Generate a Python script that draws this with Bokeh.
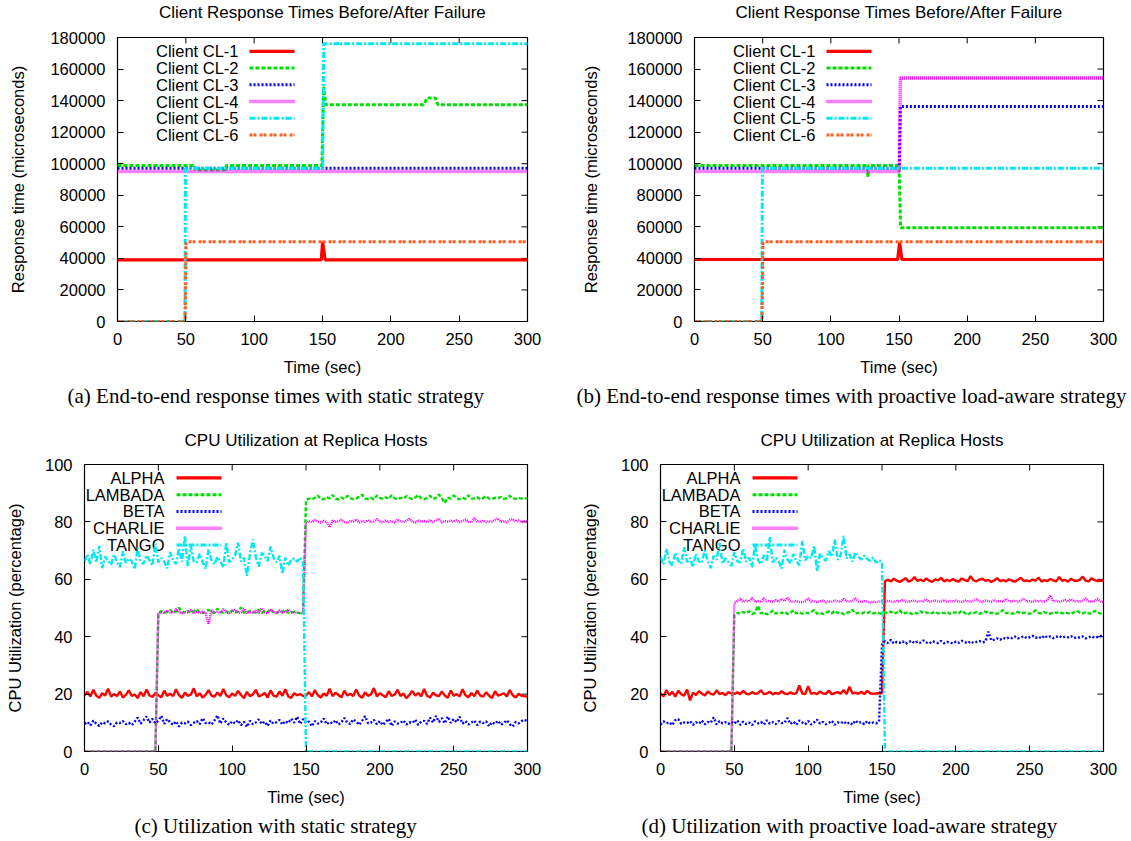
from bokeh.plotting import figure
from bokeh.models import Title, Range1d, FixedTicker, BasicTickFormatter
from bokeh.layouts import column, row
from bokeh.embed import file_html
from bokeh.resources import INLINE
from bokeh.core.properties import value

# ---------------- data ----------------
TIME_TICKS = [0, 50, 100, 150, 200, 250, 300]
RESP_TICKS = [0, 20000, 40000, 60000, 80000, 100000, 120000, 140000, 160000, 180000]
CPU_TICKS = [0, 20, 40, 60, 80, 100]

CLIENTS = ["Client CL-1", "Client CL-2", "Client CL-3", "Client CL-4", "Client CL-5", "Client CL-6"]
HOSTS = ["ALPHA", "LAMBADA", "BETA", "CHARLIE", "TANGO"]
RESP_TITLE = "Client Response Times Before/After Failure"
CPU_TITLE = "CPU Utilization at Replica Hosts"

# (a) static strategy: response times (microseconds)
A_CL1_T = [0, 149.1, 150.1, 151.9, 300]
A_CL1_V = [39100, 39100, 50500, 39100, 39100]
A_CL2_T = [0, 56.3, 57.0, 79.0, 79.7, 149.5, 150.8, 152.5, 224.0, 226.6, 232.6, 234.5, 300]
A_CL2_V = [98900, 98900, 96000, 96000, 98900, 98900, 148600, 137350, 137350, 141700, 141700, 137350, 137350]
A_CL3_T = [0, 300]
A_CL3_V = [97200, 97200]
A_CL4_T = [0, 300]
A_CL4_V = [95100, 95100]
A_CL5_T = [0, 49.3, 49.8, 150.1, 150.9, 161.0, 162.0, 163.0, 300]
A_CL5_V = [0, 0, 97200, 97200, 176000, 176000, 177000, 176000, 176000]
A_CL6_T = [0, 49.5, 50.2, 300]
A_CL6_V = [0, 0, 50600, 50600]

# (b) proactive load-aware strategy: response times (microseconds)
B_CL1_T = [0, 149.0, 150.5, 152.1, 300]
B_CL1_V = [39300, 39300, 50000, 39300, 39300]
B_CL2_T = [0, 126.6, 127.2, 127.8, 150.0, 151.2, 300]
B_CL2_V = [98900, 98900, 91600, 98900, 98900, 59400, 59400]
B_CL3_T = [0, 150.2, 151.0, 300]
B_CL3_V = [97200, 97200, 136300, 136300]
B_CL4_T = [0, 150.3, 151.0, 300]
B_CL4_V = [95100, 95100, 154300, 154300]
B_CL5_T = [0, 49.3, 49.8, 300]
B_CL5_V = [0, 0, 97200, 97200]
B_CL6_T = [0, 49.5, 50.2, 300]
B_CL6_V = [0, 0, 50600, 50600]

# CPU utilization samples every 2 seconds, t = 0 .. 300
CPU_T = list(range(0, 301, 2))

ALPHA_C = [
    19.6, 20.8, 19.2, 21.5, 19.4, 18.7, 20.3, 19.5, 21.9, 19.1, 20.0, 19.3, 20.9, 18.8, 19.7, 21.3, 19.4, 19.9, 18.6, 20.7, 19.2, 21.6, 19.5, 19.0, 20.4,
    19.6, 18.9, 21.2, 19.4, 20.1, 19.3, 21.7, 19.6, 18.7, 20.5, 19.4, 19.8, 22.0, 19.2, 20.3, 18.8, 19.7, 21.4, 19.5, 19.1, 20.6, 19.3, 21.8, 19.6, 18.9,
    20.2, 19.4, 21.1, 19.7, 18.6, 20.8, 19.3, 19.9, 21.5, 19.2, 19.6, 20.4, 18.8, 21.3, 19.5, 19.1, 20.9, 19.4, 21.7, 19.2, 18.7, 20.3, 19.6, 20.0, 19.3,
    19.5, 20.7, 19.2, 21.4, 19.6, 18.8, 20.2, 19.4, 21.9, 19.3, 20.5, 19.7, 18.9, 21.2, 19.5, 20.1, 19.3, 21.6, 19.5, 18.7, 20.6, 19.4, 19.9, 22.1, 19.2,
    20.3, 19.6, 18.9, 21.0, 19.4, 19.8, 21.5, 19.3, 20.2, 18.6, 19.7, 21.1, 19.5, 20.4, 19.2, 21.8, 19.4, 18.8, 20.5, 19.6, 19.3, 20.9, 19.5, 18.7, 21.3,
    19.4, 20.0, 19.2, 21.7, 19.6, 18.9, 20.4, 19.3, 21.2, 19.5, 19.1, 20.6, 19.4, 18.6, 21.0, 19.5, 19.8, 20.3, 19.2, 21.4, 19.6, 18.8, 20.1, 19.4, 19.3,
    19.0]
LAMBADA_C = [
    0, 0, 0, 0, 0, 0, 0, 0, 0, 0, 0, 0, 0, 0, 0, 0, 0, 0, 0, 0, 0, 0, 0, 0, 0,
    48.2, 48.9, 48.4, 48.6, 49.3, 48.3, 48.7, 50.1, 48.4, 48.5, 49.0, 48.3, 48.8, 49.6, 48.4, 48.2, 48.7, 49.4, 48.5, 48.3, 49.8, 48.6, 48.4, 48.9, 48.2,
    49.2, 48.5, 48.7, 50.2, 48.4, 48.3, 49.1, 48.6, 48.4, 49.5, 48.3, 48.8, 48.5, 49.7, 48.4, 48.2, 48.9, 48.6, 49.3, 48.3, 48.5, 48.7, 48.4, 48.2, 48.3,
    87.6, 88.1, 87.8, 88.4, 89.2, 88.0, 87.9, 88.6, 88.2, 89.4, 88.1, 87.8, 88.5, 88.0, 89.1, 88.3, 87.9, 88.2, 88.7, 89.5, 88.1, 88.0, 88.4, 87.8, 89.2,
    88.3, 88.1, 88.6, 88.0, 89.3, 88.2, 87.9, 88.4, 88.1, 89.0, 88.3, 88.0, 88.5, 89.4, 88.2, 87.9, 88.3, 89.1, 88.0, 88.4, 89.6, 88.2, 86.6, 88.5, 88.1,
    89.2, 88.3, 87.9, 88.4, 88.0, 89.3, 88.1, 88.2, 88.6, 87.9, 88.3, 89.0, 88.1, 88.0, 88.4, 88.2, 88.7, 88.0, 88.3, 89.1, 88.2, 88.0, 88.4, 88.1, 88.3,
    88.0]
BETA_C = [
    9.6, 10.3, 9.1, 10.8, 9.7, 8.9, 10.2, 9.8, 10.5, 9.4, 8.8, 10.1, 9.9, 10.6, 9.5, 10.0, 9.2, 10.4, 11.8, 9.7, 10.9, 12.2, 10.1, 11.4, 9.8,
    10.7, 12.4, 9.6, 11.3, 10.2, 9.3, 10.5, 8.7, 10.1, 9.8, 10.4, 9.2, 10.0, 10.6, 9.5, 11.6, 9.9, 10.2, 9.4, 10.8, 12.6, 9.7, 11.5, 10.1, 9.3,
    10.5, 9.8, 10.9, 9.2, 10.3, 8.6, 10.7, 9.5, 10.1, 11.2, 9.6, 10.4, 8.9, 10.8, 9.7, 10.2, 11.0, 9.4, 10.6, 9.9, 11.4, 10.0, 12.1, 9.6, 11.3,
    9.9, 10.4, 8.8, 10.6, 9.7, 10.1, 11.5, 9.5, 10.3, 9.8, 10.9, 9.4, 10.2, 11.7, 10.0, 9.6, 11.2, 10.4, 9.3, 10.7, 12.3, 9.8, 10.1, 11.0, 9.5,
    10.6, 9.2, 10.3, 11.4, 8.9, 10.5, 9.7, 10.0, 10.8, 9.4, 10.2, 9.9, 11.1, 9.3, 10.4, 10.7, 9.6, 11.8, 10.1, 12.4, 10.3, 11.6, 9.8, 12.2, 10.0,
    11.3, 10.2, 12.1, 9.7, 10.6, 9.4, 10.1, 10.8, 9.2, 10.4, 9.9, 10.5, 8.8, 10.2, 9.6, 10.7, 9.3, 10.0, 10.9, 9.5, 8.7, 10.3, 9.8, 10.6, 11.1,
    10.4]
CHARLIE_C = [
    0, 0, 0, 0, 0, 0, 0, 0, 0, 0, 0, 0, 0, 0, 0, 0, 0, 0, 0, 0, 0, 0, 0, 0, 0,
    48.0, 48.6, 48.2, 49.1, 48.4, 48.3, 49.7, 48.5, 48.2, 48.8, 48.4, 49.3, 48.1, 48.6, 48.3, 48.7, 48.2, 44.3, 49.2, 48.4, 48.6, 48.3, 49.6, 48.5, 48.2,
    48.7, 49.4, 48.3, 48.5, 49.8, 48.2, 48.6, 48.4, 49.1, 48.3, 49.9, 48.5, 48.2, 49.4, 48.6, 48.3, 49.2, 48.4, 48.7, 49.5, 48.3, 48.5, 48.4, 48.2, 48.1,
    79.6, 80.3, 79.9, 80.6, 80.1, 79.8, 80.4, 80.0, 78.2, 80.5, 79.9, 80.2, 80.8, 80.0, 79.7, 80.4, 80.1, 80.9, 79.8, 80.3, 80.0, 80.6, 79.9, 80.2, 81.0,
    80.1, 79.8, 80.5, 80.0, 80.3, 79.7, 80.9, 80.2, 79.9, 80.4, 81.1, 80.0, 79.8, 80.6, 80.1, 80.3, 79.9, 80.7, 80.0, 80.4, 81.2, 79.8, 80.3, 80.1, 80.5,
    80.0, 80.6, 79.9, 80.3, 80.8, 80.1, 79.8, 81.3, 80.2, 80.0, 80.5, 79.9, 80.3, 80.1, 80.7, 81.2, 80.0, 80.4, 79.8, 80.6, 81.0, 80.2, 80.5, 79.9, 80.3,
    80.1]
TANGO_C = [
    66.2, 68.7, 65.1, 70.3, 65.8, 71.6, 63.9, 67.9, 66.4, 65.1, 68.7, 66.0, 64.2, 69.8, 65.7, 67.2, 66.3, 63.5, 70.9, 66.1, 65.4, 68.3, 66.6, 64.8, 72.4,
    65.9, 67.4, 66.2, 63.8, 69.5, 66.5, 65.3, 70.8, 66.1, 75.2, 64.6, 71.5, 66.3, 65.8, 68.9, 66.0, 63.6, 70.4, 66.7, 65.2, 67.8, 66.4, 64.1, 72.8, 65.9,
    67.1, 68.3, 72.8, 66.2, 67.5, 61.2, 68.6, 73.9, 67.8, 64.4, 69.2, 68.1, 66.3, 71.4, 67.6, 65.9, 68.2, 61.9, 67.5, 64.7, 66.9, 67.3, 66.1, 67.6, 65.7,
    0, 0, 0, 0, 0, 0, 0, 0, 0, 0, 0, 0, 0, 0, 0, 0, 0, 0, 0, 0, 0, 0, 0, 0, 0,
    0, 0, 0, 0, 0, 0, 0, 0, 0, 0, 0, 0, 0, 0, 0, 0, 0, 0, 0, 0, 0, 0, 0, 0, 0,
    0, 0, 0, 0, 0, 0, 0, 0, 0, 0, 0, 0, 0, 0, 0, 0, 0, 0, 0, 0, 0, 0, 0, 0, 0,
    0]

ALPHA_D = [
    20.3, 19.2, 21.4, 19.6, 20.8, 19.1, 21.2, 20.0, 19.4, 21.6, 17.8, 20.5, 19.7, 21.0, 20.2, 19.5, 20.9, 20.1, 19.8, 21.3, 20.0, 20.4, 19.6, 20.7, 20.2,
    20.1, 20.6, 20.0, 21.1, 20.2, 19.9, 20.7, 20.1, 20.3, 21.3, 20.0, 20.2, 20.8, 19.9, 20.4, 20.1, 21.0, 20.2, 20.0, 20.6, 20.1, 20.3, 23.0, 20.2, 20.0,
    22.8, 20.1, 20.4, 20.0, 20.9, 20.2, 20.1, 21.2, 20.0, 20.3, 20.7, 20.1, 21.4, 20.0, 22.6, 20.2, 20.5, 20.1, 20.8, 20.0, 21.1, 20.3, 20.1, 20.2, 20.4,
    20.3, 59.4, 59.8, 59.3, 60.2, 59.5, 59.1, 59.7, 60.4, 59.2, 59.6, 60.8, 59.4, 59.9, 59.3, 60.3, 59.5, 59.1, 60.0, 59.6, 60.5, 59.3, 59.8, 59.4, 60.1,
    59.5, 59.2, 60.3, 59.7, 59.4, 61.1, 59.6, 59.3, 59.9, 60.2, 59.5, 59.8, 59.1, 59.6, 60.4, 59.4, 59.7, 59.3, 60.0, 59.5, 59.2, 59.8, 60.5, 59.4, 59.6,
    59.3, 59.9, 59.5, 60.6, 59.2, 59.7, 59.4, 60.1, 59.6, 59.3, 60.8, 59.5, 59.8, 59.2, 60.2, 59.6, 59.4, 59.9, 60.9, 59.5, 59.3, 60.4, 59.7, 59.4, 59.6,
    59.4]
LAMBADA_D = [
    0, 0, 0, 0, 0, 0, 0, 0, 0, 0, 0, 0, 0, 0, 0, 0, 0, 0, 0, 0, 0, 0, 0, 0, 0,
    47.6, 48.3, 48.0, 48.6, 48.2, 48.9, 47.9, 48.4, 50.8, 48.1, 48.5, 47.8, 48.3, 49.1, 48.0, 48.4, 48.2, 48.7, 47.9, 48.3, 49.2, 48.1, 48.5, 48.0, 48.3,
    48.2, 48.6, 49.3, 48.0, 48.4, 47.9, 48.3, 48.8, 48.1, 49.0, 48.2, 48.5, 47.8, 48.3, 48.6, 49.4, 48.1, 48.3, 48.0, 48.5, 48.2, 48.7, 48.1, 48.4, 48.2,
    48.0, 48.5, 48.2, 48.8, 48.1, 48.4, 49.2, 48.0, 48.3, 48.6, 47.9, 48.4, 48.1, 48.9, 48.2, 48.5, 48.0, 48.3, 48.7, 48.1, 48.4, 48.2, 48.6, 48.0, 48.3,
    48.5, 48.1, 49.1, 48.3, 47.6, 48.4, 48.2, 48.6, 48.0, 48.3, 48.8, 48.1, 48.4, 48.2, 48.0, 48.5, 49.3, 48.2, 48.4, 48.0, 48.3, 48.6, 48.1, 48.4, 48.2,
    48.0, 48.4, 49.2, 48.3, 48.1, 48.6, 48.2, 48.0, 48.5, 48.3, 48.7, 48.1, 48.4, 48.2, 48.0, 48.5, 49.1, 48.3, 48.1, 48.6, 48.2, 48.0, 49.0, 48.4, 48.1,
    47.9]
BETA_D = [
    9.4, 10.5, 9.8, 10.2, 9.2, 10.9, 11.3, 9.6, 10.1, 9.9, 10.6, 9.3, 10.2, 9.7, 10.8, 9.5, 10.3, 10.0, 11.9, 9.4, 10.6, 9.8, 10.2, 9.6, 10.4,
    9.7, 10.8, 9.3, 10.4, 9.6, 10.1, 9.2, 10.5, 9.8, 10.3, 9.4, 10.9, 9.7, 10.2, 9.5, 10.6, 9.9, 10.0, 11.7, 9.6, 10.4, 9.3, 10.8, 10.1, 9.5,
    10.6, 9.4, 10.2, 11.1, 9.7, 10.3, 9.5, 10.0, 10.7, 9.3, 10.1, 9.8, 10.5, 9.6, 10.2, 9.4, 10.8, 9.9, 10.3, 9.5, 10.6, 9.7, 10.1, 9.8, 10.4,
    37.2, 38.5, 37.8, 38.9, 37.6, 38.2, 37.9, 38.4, 37.5, 38.1, 38.6, 37.7, 38.3, 37.9, 38.7, 38.0, 37.6, 38.4, 38.1, 37.8, 38.5, 37.7, 38.2, 38.0, 37.6,
    38.3, 37.9, 38.6, 38.1, 37.7, 38.4, 37.8, 38.2, 38.5, 38.0, 38.3, 41.8, 38.7, 39.0, 39.4, 38.9, 39.6, 39.2, 39.8, 39.5, 40.1, 39.4, 39.7, 40.2, 39.5,
    39.8, 40.3, 39.6, 40.0, 39.4, 40.4, 39.7, 40.1, 39.5, 39.9, 40.3, 39.6, 40.0, 39.8, 40.2, 39.5, 39.9, 39.7, 40.1, 39.4, 39.8, 40.2, 39.6, 39.9, 40.3,
    39.7]
CHARLIE_D = [
    0, 0, 0, 0, 0, 0, 0, 0, 0, 0, 0, 0, 0, 0, 0, 0, 0, 0, 0, 0, 0, 0, 0, 0, 0,
    51.8, 52.4, 53.3, 52.1, 52.6, 52.3, 53.5, 52.2, 52.4, 52.0, 53.4, 52.3, 52.5, 52.1, 52.8, 52.2, 53.2, 52.4, 53.6, 52.3, 52.1, 52.5, 52.2, 52.0, 52.4,
    53.3, 52.2, 52.5, 52.1, 52.3, 52.6, 52.0, 52.4, 52.2, 52.7, 52.3, 52.1, 53.2, 52.4, 52.2, 52.5, 53.4, 52.3, 52.1, 52.4, 52.2, 51.9, 52.3, 52.1, 52.2,
    52.4, 52.1, 52.6, 52.3, 52.0, 52.5, 52.2, 52.8, 52.3, 52.1, 52.4, 52.7, 52.2, 52.5, 52.3, 52.9, 52.1, 52.4, 52.6, 52.2, 52.3, 52.8, 52.1, 52.5, 52.2,
    52.6, 52.3, 52.1, 52.7, 52.4, 52.2, 52.5, 53.0, 52.3, 52.1, 52.6, 52.4, 52.2, 52.8, 52.3, 52.5, 52.1, 53.2, 52.4, 52.3, 52.6, 52.2, 52.5, 53.3, 52.2,
    52.4, 52.1, 52.6, 52.3, 52.5, 52.2, 52.7, 54.4, 52.3, 52.5, 52.1, 52.4, 52.8, 52.2, 53.1, 52.3, 52.5, 52.1, 52.6, 53.4, 52.3, 52.2, 52.5, 53.2, 52.3,
    52.1]
TANGO_D = [
    67.8, 65.2, 70.6, 66.1, 64.8, 69.3, 66.5, 65.4, 71.2, 66.0, 67.4, 64.3, 68.9, 66.2, 65.7, 70.1, 66.4, 63.9, 68.2, 66.8, 72.6, 65.5, 67.3, 66.0, 64.6,
    69.4, 66.3, 65.9, 70.8, 66.1, 67.6, 64.2, 71.9, 66.7, 65.3, 68.4, 66.2, 74.8, 65.8, 67.5, 66.4, 63.7, 70.2, 66.9, 65.6, 68.8, 66.3, 64.9, 73.4, 66.6,
    68.2, 67.4, 71.6, 62.8, 68.9, 67.2, 66.5, 69.8, 67.9, 73.9, 66.8, 68.4, 75.1, 67.3, 68.7, 66.2, 69.4, 67.8, 66.9, 68.3, 67.1, 66.4, 67.6, 65.8, 66.7,
    66.0, 0, 0, 0, 0, 0, 0, 0, 0, 0, 0, 0, 0, 0, 0, 0, 0, 0, 0, 0, 0, 0, 0, 0, 0,
    0, 0, 0, 0, 0, 0, 0, 0, 0, 0, 0, 0, 0, 0, 0, 0, 0, 0, 0, 0, 0, 0, 0, 0, 0,
    0, 0, 0, 0, 0, 0, 0, 0, 0, 0, 0, 0, 0, 0, 0, 0, 0, 0, 0, 0, 0, 0, 0, 0, 0,
    0]

for _s in (ALPHA_C, LAMBADA_C, BETA_C, CHARLIE_C, TANGO_C, ALPHA_D, LAMBADA_D, BETA_D, CHARLIE_D, TANGO_D):
    assert len(_s) == len(CPU_T), len(_s)

# ---------------- styles ----------------
SANS = "Liberation Sans"
SERIF = "Liberation Serif"
FS = "16.5px"
TITLE_FS = "17px"
CAP_FS = "21px"

STYLES = [
    dict(line_color="#ff0000", line_dash="solid", line_width=3.2),
    dict(line_color="#00e000", line_dash="4 2", line_width=3.0),
    dict(line_color="#0000ff", line_dash="2 2", line_width=3.0),
    dict(line_color="#ff00ff", line_dash="1 1", line_width=3.5),
    dict(line_color="#00eaf0", line_dash="6 2 2 2", line_width=3.0),
    dict(line_color="#ff5c1f", line_dash="3 1 3 3", line_width=3.0),
]


def make_panel(w, h, bl, br, bt, bb, fw, fh, ymax, yticks, title, ylabel,
               caption, cap_offset, ylab_standoff):
    p = figure(width=w, height=h, x_range=Range1d(0, 300), y_range=Range1d(0, ymax),
               output_backend="svg", toolbar_location=None,
               min_border_left=bl, min_border_right=br, min_border_top=bt, min_border_bottom=bb)
    p.xgrid.visible = False
    p.ygrid.visible = False
    p.outline_line_color = "black"
    p.outline_line_width = 1.2
    p.outline_line_alpha = 1.0
    p.background_fill_color = "white"
    p.border_fill_color = "white"
    if title:
        p.title.text = title
        p.title.align = "center"
        p.title.text_font = SANS
        p.title.text_font_size = TITLE_FS
        p.title.text_font_style = "normal"
        p.title.text_color = "black"
        p.title.standoff = 30

    xa = p.xaxis[0]
    ya = p.yaxis[0]
    xa.ticker = FixedTicker(ticks=TIME_TICKS)
    ya.ticker = FixedTicker(ticks=yticks)
    ya.formatter = BasicTickFormatter(use_scientific=False)
    xa.axis_label = "Time (sec)"
    ya.axis_label = ylabel
    for ax in (xa, ya):
        ax.axis_line_color = None
        ax.major_tick_in = 6
        ax.major_tick_out = 0
        ax.major_tick_line_color = "black"
        ax.minor_tick_line_color = None
        ax.major_label_text_font = SANS
        ax.major_label_text_font_size = FS
        ax.major_label_text_color = "black"
        ax.axis_label_text_font = SANS
        ax.axis_label_text_font_size = FS
        ax.axis_label_text_font_style = "normal"
        ax.axis_label_text_color = "black"
    xa.major_label_standoff = 11
    xa.axis_label_standoff = 10
    ya.major_label_standoff = 12
    ya.axis_label_standoff = ylab_standoff

    # mirrored inward ticks on the top and right borders (gnuplot style)
    ty = ymax * 6.0 / fh
    tx = 300 * 6.0 / fw
    p.segment(x0=TIME_TICKS, y0=[ymax] * len(TIME_TICKS), x1=TIME_TICKS,
              y1=[ymax - ty] * len(TIME_TICKS), line_color="black", line_width=1)
    p.segment(x0=[300] * len(yticks), y0=yticks, x1=[300 - tx] * len(yticks), y1=yticks,
              line_color="black", line_width=1)

    cap = Title(text=caption, align="left", offset=cap_offset, standoff=6,
                text_font=SERIF, text_font_size=CAP_FS, text_font_style="normal",
                text_color="black")
    p.add_layout(cap, "below")
    p._fw = fw
    p._fh = fh
    p._ymax = ymax
    return p


def add_key(p, labels, text_right, s0, s1, row0, dy):
    fw, fh, ymax = p._fw, p._fh, p._ymax
    for i, lab in enumerate(labels):
        yv = ymax * (1 - (row0 + dy * i) / fh)
        p.text(x=[text_right / fw * 300], y=[yv], text=[lab], text_align="right",
               text_baseline="middle", text_font=value(SANS), text_font_size=value(FS),
               text_color="black")
        p.line([s0 / fw * 300, s1 / fw * 300], [yv, yv], **STYLES[i])


# ---------------- title strip above the top row ----------------
STRIP_W, STRIP_H = 1130, 24
strip = figure(width=STRIP_W, height=STRIP_H, x_range=Range1d(0, STRIP_W), y_range=Range1d(0, STRIP_H),
               output_backend="svg", toolbar_location=None,
               min_border_left=0, min_border_right=0, min_border_top=0, min_border_bottom=0)
strip.axis.visible = False
strip.grid.visible = False
strip.outline_line_color = None
strip.background_fill_color = "white"
strip.border_fill_color = "white"
# centred over each top-row frame (frames span 117-527 and 694-1103)
strip.text(x=[322, 898.5], y=[STRIP_H - 12, STRIP_H - 12], text=[RESP_TITLE, RESP_TITLE],
           text_align="center", text_baseline="middle", text_font=value(SANS),
           text_font_size=value(TITLE_FS), text_color="black")

# ---------------- panels ----------------
pa = make_panel(565, 386, 117, 38, 13, 86, 410, 287, 180000, RESP_TICKS,
                None, "Response time (microseconds)",
                "(a) End-to-end response times with static strategy", -50, 20)
add_key(pa, CLIENTS, 121, 132, 177, 14, 16.9)
for i, (t, v) in enumerate([(A_CL1_T, A_CL1_V), (A_CL2_T, A_CL2_V), (A_CL3_T, A_CL3_V),
                            (A_CL4_T, A_CL4_V), (A_CL5_T, A_CL5_V), (A_CL6_T, A_CL6_V)]):
    pa.line(t, v, **STYLES[i])

pb = make_panel(565, 386, 129, 27, 13, 86, 409, 287, 180000, RESP_TICKS,
                None, "Response time (microseconds)",
                "(b) End-to-end response times with proactive load-aware strategy", -118, 24)
add_key(pb, CLIENTS, 121, 132, 177, 14, 16.9)
for i, (t, v) in enumerate([(B_CL1_T, B_CL1_V), (B_CL2_T, B_CL2_V), (B_CL3_T, B_CL3_V),
                            (B_CL4_T, B_CL4_V), (B_CL5_T, B_CL5_V), (B_CL6_T, B_CL6_V)]):
    pb.line(t, v, **STYLES[i])

CPU_STYLE_W = 2.4

pc = make_panel(565, 430, 84, 38, 54, 87, 443, 289, 100, CPU_TICKS,
                CPU_TITLE, "CPU Utilization (percentage)",
                "(c) Utilization with static strategy", 50, 18)
add_key(pc, HOSTS, 80, 92, 137, 13.5, 16.9)
for i, s in enumerate([ALPHA_C, LAMBADA_C, BETA_C, CHARLIE_C, TANGO_C]):
    st = dict(STYLES[i])
    st["line_width"] = CPU_STYLE_W
    pc.line(CPU_T, s, **st)

pd_ = make_panel(565, 430, 95, 27, 54, 87, 443, 289, 100, CPU_TICKS,
                 CPU_TITLE, "CPU Utilization (percentage)",
                 "(d) Utilization with proactive load-aware strategy", -19, 19)
add_key(pd_, HOSTS, 80, 92, 137, 13.5, 16.9)
for i, s in enumerate([ALPHA_D, LAMBADA_D, BETA_D, CHARLIE_D, TANGO_D]):
    st = dict(STYLES[i])
    st["line_width"] = CPU_STYLE_W
    pd_.line(CPU_T, s, **st)

layout = column(strip, row(pa, pb), row(pc, pd_))
open("out.html", "w").write(file_html(layout, INLINE))
